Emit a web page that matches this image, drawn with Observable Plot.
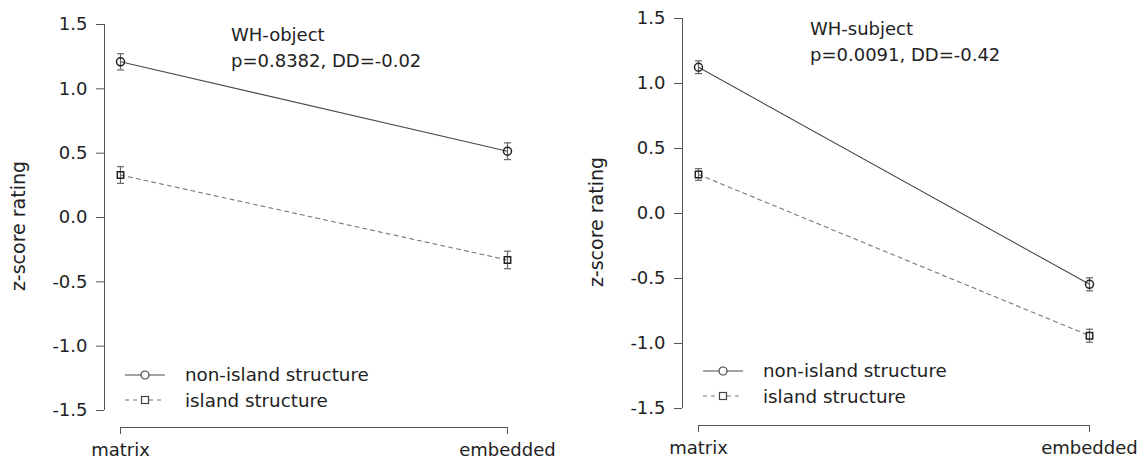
<!DOCTYPE html>
<html>
<head>
<meta charset="utf-8">
<script src="https://cdn.jsdelivr.net/npm/d3@7"></script>
<script src="https://cdn.jsdelivr.net/npm/@observablehq/plot@0.6"></script>
<style>
  body { margin: 0; background: #fff; font-family: "DejaVu Sans", sans-serif; }
  #wrap { position: relative; width: 1147px; height: 464px; display: flex; }
  .panel { position: relative; }
  .title { position: absolute; font-size: 18px; line-height: 26px; color: #222; white-space: nowrap; }
  .legend { position: absolute; font-size: 18.3px; color: #222; }
  .legend .row { display: flex; align-items: center; height: 25.5px; white-space: nowrap; }
  .legend svg { margin-right: 20px; }
</style>
</head>
<body>
<div id="wrap"></div>
<script>
// ---- data ----
const conditions = ["matrix", "embedded"];
const structures = ["non-island structure", "island structure"];
const yTicks = [-1.5, -1.0, -0.5, 0.0, 0.5, 1.0, 1.5];

const panelNames = ["WH-object", "WH-subject"];
const panelStats = ["p=0.8382, DD=-0.02", "p=0.0091, DD=-0.42"];

const objNonIsland = [1.21, 0.515];
const objNonIslandSE = [0.063, 0.065];
const objIsland = [0.33, -0.33];
const objIslandSE = [0.065, 0.068];

const subjNonIsland = [1.125, -0.545];
const subjNonIslandSE = [0.049, 0.05];
const subjIsland = [0.30, -0.94];
const subjIslandSE = [0.045, 0.05];

// ---- helpers ----
function rows(nonIsland, nonSE, island, islSE) {
  const out = [];
  conditions.forEach((c, i) => {
    out.push({cond: c, structure: structures[0], value: nonIsland[i], se: nonSE[i]});
    out.push({cond: c, structure: structures[1], value: island[i], se: islSE[i]});
  });
  return out;
}

const capSymbol = {
  draw(context, size) {
    const w = Math.sqrt(size / Math.PI);
    context.moveTo(-w, 0);
    context.lineTo(w, 0);
  }
};

const FONT = '"DejaVu Sans", sans-serif';

function makePanel(data, geom) {
  const yMin = yTicks[0], yMax = yTicks[yTicks.length - 1];
  const non = data.filter(d => d.structure === structures[0]);
  const isl = data.filter(d => d.structure === structures[1]);
  return Plot.plot({
    width: geom.width,
    height: 464,
    marginLeft: geom.marginLeft,
    marginRight: geom.marginRight,
    marginTop: geom.marginTop,
    marginBottom: geom.marginBottom,
    style: {fontFamily: FONT, fontSize: "18px", color: "#222", background: "#fff", overflow: "visible"},
    x: {type: "point", domain: conditions, padding: 0, insetLeft: 16},
    y: {domain: [yMin, yMax], insetBottom: 17},
    marks: [
      // axis lines
      Plot.ruleX([conditions[0]], {x: d => d, y1: yMin, y2: yMax, dx: -16, stroke: "#555", strokeWidth: 1}),
      Plot.ruleY([yMin], {x1: () => conditions[0], x2: () => conditions[1], y: d => d, dy: 17, stroke: "#555", strokeWidth: 1}),
      Plot.axisY({
        ticks: yTicks, tickFormat: d => d.toFixed(1), tickSize: 8, tickPadding: 9,
        stroke: "#555", fill: "#222", fontSize: 18, label: null
      }),
      Plot.axisY({
        ticks: [], tickSize: 0, fontSize: 19, fill: "#222",
        label: "z-score rating", labelAnchor: "center", labelArrow: false, labelOffset: 93
      }),
      Plot.axisX({
        tickSize: 7, tickPadding: 9, stroke: "#555", fill: "#222", fontSize: 18, label: null
      }),
      // data lines
      Plot.line(non, {x: "cond", y: "value", stroke: "#4a4a4a", strokeWidth: 1.1}),
      Plot.line(isl, {x: "cond", y: "value", stroke: "#777", strokeWidth: 1.1, strokeDasharray: "4,4"}),
      // error bars
      Plot.ruleX(data, {x: "cond", y1: d => d.value - d.se, y2: d => d.value + d.se, stroke: "#666", strokeWidth: 1.2}),
      Plot.dot(data, {x: "cond", y: d => d.value - d.se, symbol: capSymbol, r: 3.5, stroke: "#666", strokeWidth: 1.2}),
      Plot.dot(data, {x: "cond", y: d => d.value + d.se, symbol: capSymbol, r: 3.5, stroke: "#666", strokeWidth: 1.2}),
      // markers
      Plot.dot(non, {x: "cond", y: "value", symbol: "circle", r: 4, stroke: "#222", strokeWidth: 1.5, fill: "none"}),
      Plot.dot(isl, {x: "cond", y: "value", symbol: "square", r: 3.6, stroke: "#222", strokeWidth: 1.5, fill: "none"})
    ]
  });
}

function legendSwatch(dashed, square) {
  const ns = "http://www.w3.org/2000/svg";
  const svg = document.createElementNS(ns, "svg");
  svg.setAttribute("width", 40); svg.setAttribute("height", 16);
  const line = document.createElementNS(ns, "line");
  line.setAttribute("x1", 0); line.setAttribute("x2", 40);
  line.setAttribute("y1", 8); line.setAttribute("y2", 8);
  line.setAttribute("stroke", dashed ? "#777" : "#4a4a4a");
  line.setAttribute("stroke-width", 1.1);
  if (dashed) line.setAttribute("stroke-dasharray", "4,4");
  svg.appendChild(line);
  let m;
  if (square) {
    m = document.createElementNS(ns, "rect");
    m.setAttribute("x", 16.5); m.setAttribute("y", 4.5); m.setAttribute("width", 7); m.setAttribute("height", 7);
  } else {
    m = document.createElementNS(ns, "circle");
    m.setAttribute("cx", 20); m.setAttribute("cy", 8); m.setAttribute("r", 4);
  }
  m.setAttribute("fill", "#fff"); m.setAttribute("stroke", "#444"); m.setAttribute("stroke-width", 1.2);
  svg.appendChild(m);
  return svg;
}

const panels = [
  {data: rows(objNonIsland, objNonIslandSE, objIsland, objIslandSE),
   geom: {width: 573, marginLeft: 104, marginRight: 66, marginTop: 24, marginBottom: 37},
   title: {left: 231, top: 22}, legend: {left: 125, top: 362}},
  {data: rows(subjNonIsland, subjNonIslandSE, subjIsland, subjIslandSE),
   geom: {width: 574, marginLeft: 109, marginRight: 58, marginTop: 18, marginBottom: 39},
   title: {left: 237, top: 16}, legend: {left: 130, top: 358}}
];

const wrap = document.getElementById("wrap");
panels.forEach((p, i) => {
  const div = document.createElement("div");
  div.className = "panel";
  div.style.width = p.geom.width + "px";
  div.appendChild(makePanel(p.data, p.geom));
  const t = document.createElement("div");
  t.className = "title";
  t.style.left = p.title.left + "px"; t.style.top = p.title.top + "px";
  t.innerHTML = panelNames[i] + "<br>" + panelStats[i];
  div.appendChild(t);
  const lg = document.createElement("div");
  lg.className = "legend";
  lg.style.left = p.legend.left + "px"; lg.style.top = p.legend.top + "px";
  structures.forEach((s, k) => {
    const r = document.createElement("div");
    r.className = "row";
    r.appendChild(legendSwatch(k === 1, k === 1));
    const sp = document.createElement("span");
    sp.textContent = s;
    r.appendChild(sp);
    lg.appendChild(r);
  });
  div.appendChild(lg);
  wrap.appendChild(div);
});
</script>
</body>
</html>
